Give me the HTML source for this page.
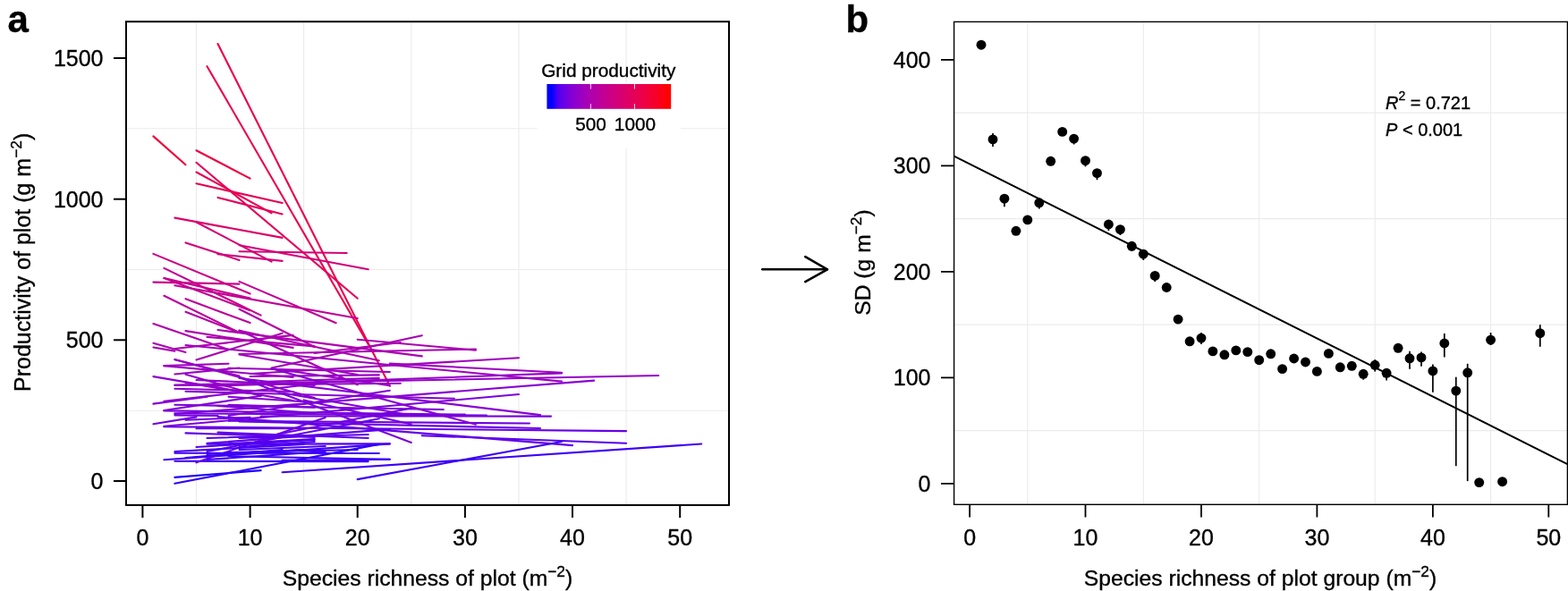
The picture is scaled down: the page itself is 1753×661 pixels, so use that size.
<!DOCTYPE html><html><head><meta charset="utf-8"><title>Figure</title><style>html,body{margin:0;padding:0;background:#fff;overflow:hidden}svg{display:block}text{font-family:'Liberation Sans', Arial, Helvetica, sans-serif;fill:#000;stroke:#000;stroke-width:0.35px}</style></head><body>
<svg width="1753" height="661" viewBox="0 0 1753 661">
<rect x="0" y="0" width="1753" height="661" fill="#fff"/>
<g stroke="#ebebeb" stroke-width="1.1" fill="none">
<line x1="219.5" y1="25" x2="219.5" y2="564"/>
<line x1="339.6" y1="25" x2="339.6" y2="564"/>
<line x1="459.8" y1="25" x2="459.8" y2="564"/>
<line x1="580.0" y1="25" x2="580.0" y2="564"/>
<line x1="700.1" y1="25" x2="700.1" y2="564"/>
<line x1="142" y1="459.2" x2="814" y2="459.2"/>
<line x1="142" y1="301.5" x2="814" y2="301.5"/>
<line x1="142" y1="143.8" x2="814" y2="143.8"/>
</g>
<g stroke-width="2.1" stroke-linecap="round" fill="none">
<line x1="243.5" y1="49.0" x2="435.8" y2="431.7" stroke="#ea004c"/>
<line x1="231.5" y1="74.2" x2="411.7" y2="385.0" stroke="#ea004c"/>
<line x1="171.4" y1="152.4" x2="207.5" y2="184.2" stroke="#f20037"/>
<line x1="219.5" y1="168.2" x2="279.6" y2="199.6" stroke="#ee0040"/>
<line x1="219.5" y1="181.8" x2="399.7" y2="333.7" stroke="#e50057"/>
<line x1="219.5" y1="192.5" x2="303.6" y2="238.3" stroke="#e70052"/>
<line x1="219.5" y1="205.3" x2="315.6" y2="227.1" stroke="#e60053"/>
<line x1="243.5" y1="220.9" x2="315.6" y2="239.4" stroke="#e3005b"/>
<line x1="195.4" y1="243.6" x2="315.6" y2="265.9" stroke="#dc0068"/>
<line x1="219.5" y1="248.5" x2="303.6" y2="292.6" stroke="#d70071"/>
<line x1="207.5" y1="271.4" x2="267.5" y2="290.9" stroke="#d40077"/>
<line x1="243.5" y1="284.1" x2="315.6" y2="291.9" stroke="#d2007b"/>
<line x1="267.5" y1="281.3" x2="387.7" y2="283.0" stroke="#d40077"/>
<line x1="267.5" y1="274.3" x2="411.7" y2="301.3" stroke="#d2007a"/>
<line x1="171.4" y1="283.9" x2="279.6" y2="328.5" stroke="#cc0085"/>
<line x1="183.4" y1="299.9" x2="291.6" y2="352.6" stroke="#c50090"/>
<line x1="171.4" y1="315.6" x2="267.5" y2="317.6" stroke="#c8008a"/>
<line x1="183.4" y1="311.1" x2="279.6" y2="333.6" stroke="#c6008d"/>
<line x1="183.4" y1="311.1" x2="279.6" y2="347.2" stroke="#c40091"/>
<line x1="195.4" y1="319.3" x2="399.7" y2="356.0" stroke="#c00096"/>
<line x1="183.4" y1="330.8" x2="267.5" y2="372.0" stroke="#bb009e"/>
<line x1="207.5" y1="334.2" x2="279.6" y2="361.1" stroke="#bc009c"/>
<line x1="207.5" y1="348.8" x2="267.5" y2="372.0" stroke="#b700a3"/>
<line x1="267.5" y1="314.9" x2="375.7" y2="361.2" stroke="#c00096"/>
<line x1="267.5" y1="345.8" x2="351.7" y2="388.0" stroke="#b400a6"/>
<line x1="171.4" y1="362.1" x2="255.5" y2="390.9" stroke="#b000ac"/>
<line x1="171.4" y1="383.8" x2="207.5" y2="394.0" stroke="#aa00b3"/>
<line x1="171.4" y1="388.5" x2="195.4" y2="392.6" stroke="#a900b4"/>
<line x1="207.5" y1="370.1" x2="327.6" y2="388.9" stroke="#ae00ad"/>
<line x1="231.5" y1="376.9" x2="351.7" y2="387.4" stroke="#ad00af"/>
<line x1="219.5" y1="402.4" x2="315.6" y2="372.7" stroke="#aa00b2"/>
<line x1="195.4" y1="390.0" x2="327.6" y2="374.9" stroke="#ad00af"/>
<line x1="267.5" y1="369.8" x2="423.8" y2="403.2" stroke="#ab00b1"/>
<line x1="267.5" y1="396.0" x2="531.9" y2="390.5" stroke="#a700b5"/>
<line x1="399.7" y1="379.7" x2="531.9" y2="391.7" stroke="#ab00b1"/>
<line x1="195.4" y1="402.2" x2="267.5" y2="420.4" stroke="#9d00c0"/>
<line x1="183.4" y1="409.1" x2="255.5" y2="406.7" stroke="#9f00be"/>
<line x1="303.6" y1="411.5" x2="471.8" y2="375.3" stroke="#a700b5"/>
<line x1="243.5" y1="369.0" x2="471.8" y2="398.4" stroke="#ac00b0"/>
<line x1="351.7" y1="395.0" x2="447.8" y2="383.0" stroke="#aa00b3"/>
<line x1="435.8" y1="406.6" x2="628.0" y2="416.8" stroke="#9d00c0"/>
<line x1="207.5" y1="386.0" x2="628.0" y2="426.6" stroke="#a000bd"/>
<line x1="195.4" y1="418.5" x2="267.5" y2="411.5" stroke="#9b00c2"/>
<line x1="255.5" y1="411.7" x2="435.8" y2="416.0" stroke="#9c00c1"/>
<line x1="279.6" y1="418.0" x2="580.0" y2="400.3" stroke="#9f00be"/>
<line x1="195.4" y1="431.0" x2="447.8" y2="428.7" stroke="#9200ca"/>
<line x1="195.4" y1="463.0" x2="664.1" y2="425.6" stroke="#8700d3"/>
<line x1="183.4" y1="476.8" x2="580.0" y2="441.0" stroke="#7c00db"/>
<line x1="231.5" y1="432.0" x2="628.0" y2="417.4" stroke="#9500c7"/>
<line x1="267.5" y1="369.5" x2="399.7" y2="430.3" stroke="#a400b9"/>
<line x1="267.5" y1="396.5" x2="399.7" y2="419.0" stroke="#a000be"/>
<line x1="279.6" y1="421.0" x2="423.8" y2="419.4" stroke="#9800c5"/>
<line x1="303.6" y1="412.0" x2="435.8" y2="431.3" stroke="#9700c5"/>
<line x1="291.6" y1="427.0" x2="423.8" y2="422.9" stroke="#9500c7"/>
<line x1="183.4" y1="409.2" x2="327.6" y2="422.0" stroke="#9b00c2"/>
<line x1="195.4" y1="402.0" x2="351.7" y2="445.0" stroke="#9600c7"/>
<line x1="207.5" y1="418.7" x2="291.6" y2="442.7" stroke="#9100cb"/>
<line x1="219.5" y1="425.0" x2="351.7" y2="431.0" stroke="#9300c9"/>
<line x1="171.4" y1="421.1" x2="327.6" y2="448.0" stroke="#8f00cd"/>
<line x1="195.4" y1="430.6" x2="736.2" y2="420.0" stroke="#9500c8"/>
<line x1="207.5" y1="437.8" x2="507.9" y2="445.7" stroke="#8900d1"/>
<line x1="171.4" y1="451.6" x2="231.5" y2="443.8" stroke="#8500d5"/>
<line x1="183.4" y1="448.7" x2="363.7" y2="428.0" stroke="#8c00cf"/>
<line x1="255.5" y1="443.8" x2="351.7" y2="450.0" stroke="#8500d4"/>
<line x1="195.4" y1="452.8" x2="495.8" y2="458.0" stroke="#7f00d9"/>
<line x1="183.4" y1="459.4" x2="519.9" y2="463.6" stroke="#7900dd"/>
<line x1="195.4" y1="462.4" x2="543.9" y2="464.6" stroke="#7700de"/>
<line x1="195.4" y1="464.5" x2="243.5" y2="465.0" stroke="#7600de"/>
<line x1="171.4" y1="474.2" x2="219.5" y2="466.4" stroke="#7100e2"/>
<line x1="207.5" y1="469.8" x2="279.6" y2="466.8" stroke="#7300e1"/>
<line x1="255.5" y1="465.0" x2="435.8" y2="436.8" stroke="#8200d6"/>
<line x1="255.5" y1="470.8" x2="592.0" y2="473.5" stroke="#6f00e3"/>
<line x1="243.5" y1="453.9" x2="351.7" y2="462.0" stroke="#7c00db"/>
<line x1="255.5" y1="452.8" x2="351.7" y2="455.6" stroke="#8000d8"/>
<line x1="291.6" y1="465.5" x2="616.0" y2="465.6" stroke="#7500df"/>
<line x1="183.4" y1="459.0" x2="291.6" y2="442.8" stroke="#8200d6"/>
<line x1="231.5" y1="505.0" x2="423.8" y2="468.3" stroke="#5e00eb"/>
<line x1="183.4" y1="477.2" x2="700.1" y2="482.1" stroke="#6700e7"/>
<line x1="219.5" y1="479.3" x2="339.6" y2="479.3" stroke="#6700e7"/>
<line x1="267.5" y1="471.5" x2="604.0" y2="479.0" stroke="#6c00e5"/>
<line x1="207.5" y1="484.4" x2="351.7" y2="489.0" stroke="#5e00eb"/>
<line x1="267.5" y1="422.0" x2="459.8" y2="494.9" stroke="#7c00db"/>
<line x1="243.5" y1="483.6" x2="411.7" y2="490.0" stroke="#5e00eb"/>
<line x1="471.8" y1="487.2" x2="700.1" y2="495.7" stroke="#5700ee"/>
<line x1="243.5" y1="466.0" x2="640.0" y2="498.1" stroke="#6400e9"/>
<line x1="231.5" y1="495.9" x2="435.8" y2="480.1" stroke="#5c00ec"/>
<line x1="303.6" y1="487.0" x2="459.8" y2="456.5" stroke="#6f00e3"/>
<line x1="195.4" y1="506.7" x2="423.8" y2="507.0" stroke="#3c00f7"/>
<line x1="195.4" y1="515.8" x2="411.7" y2="516.1" stroke="#3c00f7"/>
<line x1="183.4" y1="514.3" x2="435.8" y2="496.4" stroke="#3f00f6"/>
<line x1="219.5" y1="517.3" x2="363.7" y2="466.9" stroke="#6800e6"/>
<line x1="255.5" y1="510.3" x2="435.8" y2="513.8" stroke="#3c00f7"/>
<line x1="315.6" y1="514.9" x2="435.8" y2="513.7" stroke="#3c00f7"/>
<line x1="231.5" y1="496.6" x2="435.8" y2="496.4" stroke="#5000f1"/>
<line x1="267.5" y1="500.0" x2="351.7" y2="494.0" stroke="#4f00f1"/>
<line x1="231.5" y1="490.0" x2="327.6" y2="487.0" stroke="#5b00ec"/>
<line x1="267.5" y1="490.0" x2="411.7" y2="486.0" stroke="#5c00ec"/>
<line x1="219.5" y1="500.0" x2="351.7" y2="492.0" stroke="#5000f1"/>
<line x1="243.5" y1="509.0" x2="339.6" y2="503.0" stroke="#3d00f7"/>
<line x1="267.5" y1="423.0" x2="604.0" y2="464.1" stroke="#8800d2"/>
<line x1="303.6" y1="412.3" x2="531.9" y2="474.8" stroke="#8800d2"/>
<line x1="315.6" y1="439.5" x2="459.8" y2="464.5" stroke="#8100d7"/>
<line x1="339.6" y1="447.4" x2="459.8" y2="474.4" stroke="#7a00dc"/>
<line x1="195.4" y1="505.0" x2="339.6" y2="497.0" stroke="#4800f4"/>
<line x1="207.5" y1="512.0" x2="315.6" y2="503.0" stroke="#3c00f7"/>
<line x1="255.5" y1="506.0" x2="399.7" y2="503.0" stroke="#4100f6"/>
<line x1="231.5" y1="514.0" x2="363.7" y2="505.0" stroke="#3c00f7"/>
<line x1="195.4" y1="434.8" x2="327.6" y2="438.0" stroke="#8d00ce"/>
<line x1="207.5" y1="428.0" x2="279.6" y2="440.0" stroke="#8f00cd"/>
<line x1="243.5" y1="497.0" x2="351.7" y2="491.0" stroke="#5400f0"/>
<line x1="267.5" y1="503.0" x2="363.7" y2="499.0" stroke="#4800f4"/>
<line x1="231.5" y1="508.0" x2="339.6" y2="503.0" stroke="#3f00f7"/>
<line x1="195.4" y1="533.9" x2="291.6" y2="526.1" stroke="#1e00fd"/>
<line x1="195.4" y1="540.7" x2="423.8" y2="496.9" stroke="#3000fa"/>
<line x1="315.6" y1="528.3" x2="784.2" y2="496.5" stroke="#3c00f7"/>
<line x1="399.7" y1="536.1" x2="628.0" y2="494.0" stroke="#3c00f7"/>
</g>
<rect x="600.5" y="93" width="160.5" height="72.5" fill="#fff"/>
<defs><linearGradient id="cb" x1="0" y1="0" x2="1" y2="0"><stop offset="0" stop-color="#0000ff"/><stop offset="0.0400" stop-color="#0000ff"/><stop offset="0.0863" stop-color="#4b00f3"/><stop offset="0.1326" stop-color="#6800e7"/><stop offset="0.1789" stop-color="#7c00da"/><stop offset="0.2252" stop-color="#8d00ce"/><stop offset="0.2715" stop-color="#9a00c3"/><stop offset="0.3178" stop-color="#a600b7"/><stop offset="0.3641" stop-color="#b000ab"/><stop offset="0.4104" stop-color="#ba009f"/><stop offset="0.4567" stop-color="#c20094"/><stop offset="0.5030" stop-color="#ca0088"/><stop offset="0.5493" stop-color="#d1007d"/><stop offset="0.5956" stop-color="#d70072"/><stop offset="0.6419" stop-color="#dd0066"/><stop offset="0.6882" stop-color="#e3005b"/><stop offset="0.7345" stop-color="#e80050"/><stop offset="0.7808" stop-color="#ed0044"/><stop offset="0.8271" stop-color="#f20037"/><stop offset="0.8734" stop-color="#f6002a"/><stop offset="0.9197" stop-color="#fb001a"/><stop offset="0.9660" stop-color="#ff0000"/><stop offset="1" stop-color="#ff0000"/></linearGradient></defs>
<rect x="611.4" y="94" width="138.8" height="27.8" fill="url(#cb)"/>
<line x1="660.4" y1="94" x2="660.4" y2="99.6" stroke="#fff" stroke-width="1" opacity="0.8"/>
<line x1="660.4" y1="116.2" x2="660.4" y2="121.8" stroke="#fff" stroke-width="1" opacity="0.8"/>
<line x1="709.5" y1="94" x2="709.5" y2="99.6" stroke="#fff" stroke-width="1" opacity="0.8"/>
<line x1="709.5" y1="116.2" x2="709.5" y2="121.8" stroke="#fff" stroke-width="1" opacity="0.8"/>
<text x="680.3" y="86.2" font-size="20.8" text-anchor="middle">Grid productivity</text>
<text x="660.6" y="145.6" font-size="20.8" text-anchor="middle">500</text>
<text x="710" y="145.6" font-size="20.8" text-anchor="middle">1000</text>
<rect x="141" y="24.2" width="674" height="540.7" fill="none" stroke="#000" stroke-width="2"/>
<g stroke="#000" stroke-width="2">
<line x1="159.4" y1="565" x2="159.4" y2="579"/>
<line x1="279.6" y1="565" x2="279.6" y2="579"/>
<line x1="399.7" y1="565" x2="399.7" y2="579"/>
<line x1="519.9" y1="565" x2="519.9" y2="579"/>
<line x1="640.0" y1="565" x2="640.0" y2="579"/>
<line x1="760.2" y1="565" x2="760.2" y2="579"/>
<line x1="127" y1="538.0" x2="141" y2="538.0"/>
<line x1="127" y1="380.3" x2="141" y2="380.3"/>
<line x1="127" y1="222.7" x2="141" y2="222.7"/>
<line x1="127" y1="65.0" x2="141" y2="65.0"/>
</g>
<text x="159.4" y="609.7" font-size="25" text-anchor="middle">0</text>
<text x="279.6" y="609.7" font-size="25" text-anchor="middle">10</text>
<text x="399.7" y="609.7" font-size="25" text-anchor="middle">20</text>
<text x="519.9" y="609.7" font-size="25" text-anchor="middle">30</text>
<text x="640.0" y="609.7" font-size="25" text-anchor="middle">40</text>
<text x="760.2" y="609.7" font-size="25" text-anchor="middle">50</text>
<text x="115.5" y="546.9" font-size="25" text-anchor="end">0</text>
<text x="115.5" y="389.2" font-size="25" text-anchor="end">500</text>
<text x="115.5" y="231.6" font-size="25" text-anchor="end">1000</text>
<text x="115.5" y="73.9" font-size="25" text-anchor="end">1500</text>
<text x="478" y="654.9" font-size="24.7" text-anchor="middle">Species richness of plot (m<tspan dy="-10" font-size="17.3">−2</tspan><tspan dy="10">)</tspan></text>
<text transform="translate(34,293.4) rotate(-90)" x="0" y="0" font-size="25" text-anchor="middle">Productivity of plot (g m<tspan dy="-10" font-size="17.3">−2</tspan><tspan dy="10">)</tspan></text>
<text x="8.5" y="35.8" font-size="42" font-weight="bold">a</text>
<g stroke="#000" stroke-width="2.6" stroke-linecap="round" stroke-linejoin="round" fill="none"><line x1="852.3" y1="301.3" x2="924.5" y2="301.3"/><polyline points="900.3,287.2 925,301.3 900.3,315.1"/></g>
<g stroke="#ebebeb" stroke-width="1.1" fill="none">
<line x1="1148.8" y1="25" x2="1148.8" y2="564"/>
<line x1="1278.3" y1="25" x2="1278.3" y2="564"/>
<line x1="1407.7" y1="25" x2="1407.7" y2="564"/>
<line x1="1537.2" y1="25" x2="1537.2" y2="564"/>
<line x1="1666.6" y1="25" x2="1666.6" y2="564"/>
<line x1="1067" y1="481.6" x2="1752" y2="481.6"/>
<line x1="1067" y1="363.1" x2="1752" y2="363.1"/>
<line x1="1067" y1="244.6" x2="1752" y2="244.6"/>
<line x1="1067" y1="126.1" x2="1752" y2="126.1"/>
</g>
<line x1="1066.6" y1="174.6" x2="1752.4" y2="519.2" stroke="#000" stroke-width="2"/>
<g stroke="#000" stroke-width="1.7">
<line x1="1110.0" y1="148.9" x2="1110.0" y2="163.9"/>
<line x1="1122.9" y1="218.0" x2="1122.9" y2="231.2"/>
<line x1="1161.8" y1="222.0" x2="1161.8" y2="233.6"/>
<line x1="1200.6" y1="151.0" x2="1200.6" y2="161.5"/>
<line x1="1213.5" y1="176.0" x2="1213.5" y2="186.4"/>
<line x1="1226.5" y1="189.0" x2="1226.5" y2="201.2"/>
<line x1="1239.4" y1="247.0" x2="1239.4" y2="258.0"/>
<line x1="1252.4" y1="252.0" x2="1252.4" y2="263.0"/>
<line x1="1265.3" y1="272.0" x2="1265.3" y2="281.0"/>
<line x1="1278.3" y1="280.0" x2="1278.3" y2="291.0"/>
<line x1="1291.2" y1="305.0" x2="1291.2" y2="315.0"/>
<line x1="1343.0" y1="372.0" x2="1343.0" y2="385.0"/>
<line x1="1524.2" y1="414.0" x2="1524.2" y2="424.7"/>
<line x1="1537.2" y1="402.2" x2="1537.2" y2="415.6"/>
<line x1="1550.1" y1="412.0" x2="1550.1" y2="425.6"/>
<line x1="1576.0" y1="392.7" x2="1576.0" y2="412.8"/>
<line x1="1589.0" y1="393.4" x2="1589.0" y2="409.8"/>
<line x1="1601.9" y1="407.4" x2="1601.9" y2="438.7"/>
<line x1="1614.8" y1="373.0" x2="1614.8" y2="399.5"/>
<line x1="1627.8" y1="421.7" x2="1627.8" y2="521.2"/>
<line x1="1640.7" y1="406.8" x2="1640.7" y2="538.1"/>
<line x1="1666.6" y1="372.1" x2="1666.6" y2="386.0"/>
<line x1="1721.8" y1="363.2" x2="1721.8" y2="387.8"/>
</g><g fill="#000">
<circle cx="1097.0" cy="50.2" r="5.45"/>
<circle cx="1110.0" cy="155.9" r="5.45"/>
<circle cx="1122.9" cy="222.2" r="5.45"/>
<circle cx="1135.9" cy="258.3" r="5.45"/>
<circle cx="1148.8" cy="245.9" r="5.45"/>
<circle cx="1161.8" cy="226.8" r="5.45"/>
<circle cx="1174.7" cy="180.3" r="5.45"/>
<circle cx="1187.7" cy="147.4" r="5.45"/>
<circle cx="1200.6" cy="155.1" r="5.45"/>
<circle cx="1213.5" cy="179.7" r="5.45"/>
<circle cx="1226.5" cy="193.6" r="5.45"/>
<circle cx="1239.4" cy="251.0" r="5.45"/>
<circle cx="1252.4" cy="256.6" r="5.45"/>
<circle cx="1265.3" cy="275.3" r="5.45"/>
<circle cx="1278.3" cy="284.2" r="5.45"/>
<circle cx="1291.2" cy="308.4" r="5.45"/>
<circle cx="1304.2" cy="321.5" r="5.45"/>
<circle cx="1317.1" cy="357.1" r="5.45"/>
<circle cx="1330.1" cy="381.8" r="5.45"/>
<circle cx="1343.0" cy="378.1" r="5.45"/>
<circle cx="1355.9" cy="392.9" r="5.45"/>
<circle cx="1368.9" cy="396.8" r="5.45"/>
<circle cx="1381.8" cy="391.9" r="5.45"/>
<circle cx="1394.8" cy="393.6" r="5.45"/>
<circle cx="1407.7" cy="402.7" r="5.45"/>
<circle cx="1420.7" cy="395.8" r="5.45"/>
<circle cx="1433.6" cy="412.6" r="5.45"/>
<circle cx="1446.6" cy="401.0" r="5.45"/>
<circle cx="1459.5" cy="405.0" r="5.45"/>
<circle cx="1472.4" cy="415.4" r="5.45"/>
<circle cx="1485.4" cy="395.4" r="5.45"/>
<circle cx="1498.3" cy="410.8" r="5.45"/>
<circle cx="1511.3" cy="409.3" r="5.45"/>
<circle cx="1524.2" cy="418.3" r="5.45"/>
<circle cx="1537.2" cy="408.3" r="5.45"/>
<circle cx="1550.1" cy="417.3" r="5.45"/>
<circle cx="1563.1" cy="389.3" r="5.45"/>
<circle cx="1576.0" cy="400.8" r="5.45"/>
<circle cx="1589.0" cy="399.9" r="5.45"/>
<circle cx="1601.9" cy="414.9" r="5.45"/>
<circle cx="1614.8" cy="384.0" r="5.45"/>
<circle cx="1627.8" cy="437.1" r="5.45"/>
<circle cx="1640.7" cy="416.8" r="5.45"/>
<circle cx="1653.7" cy="539.6" r="5.45"/>
<circle cx="1666.6" cy="380.2" r="5.45"/>
<circle cx="1679.6" cy="538.7" r="5.45"/>
<circle cx="1721.8" cy="372.7" r="5.45"/>
</g>
<rect x="1066.6" y="24.4" width="685.8" height="539.9" fill="none" stroke="#000" stroke-width="1.4"/>
<g stroke="#000" stroke-width="1.8">
<line x1="1084.1" y1="564.3" x2="1084.1" y2="578.5"/>
<line x1="1213.5" y1="564.3" x2="1213.5" y2="578.5"/>
<line x1="1343.0" y1="564.3" x2="1343.0" y2="578.5"/>
<line x1="1472.4" y1="564.3" x2="1472.4" y2="578.5"/>
<line x1="1601.9" y1="564.3" x2="1601.9" y2="578.5"/>
<line x1="1731.3" y1="564.3" x2="1731.3" y2="578.5"/>
<line x1="1052" y1="540.9" x2="1066.6" y2="540.9"/>
<line x1="1052" y1="422.4" x2="1066.6" y2="422.4"/>
<line x1="1052" y1="303.9" x2="1066.6" y2="303.9"/>
<line x1="1052" y1="185.4" x2="1066.6" y2="185.4"/>
<line x1="1052" y1="66.9" x2="1066.6" y2="66.9"/>
</g>
<text x="1084.1" y="609.7" font-size="25" text-anchor="middle">0</text>
<text x="1213.5" y="609.7" font-size="25" text-anchor="middle">10</text>
<text x="1343.0" y="609.7" font-size="25" text-anchor="middle">20</text>
<text x="1472.4" y="609.7" font-size="25" text-anchor="middle">30</text>
<text x="1601.9" y="609.7" font-size="25" text-anchor="middle">40</text>
<text x="1731.3" y="609.7" font-size="25" text-anchor="middle">50</text>
<text x="1040.5" y="549.8" font-size="25" text-anchor="end">0</text>
<text x="1040.5" y="431.3" font-size="25" text-anchor="end">100</text>
<text x="1040.5" y="312.8" font-size="25" text-anchor="end">200</text>
<text x="1040.5" y="194.3" font-size="25" text-anchor="end">300</text>
<text x="1040.5" y="75.8" font-size="25" text-anchor="end">400</text>
<text x="1409" y="654.9" font-size="24.7" text-anchor="middle">Species richness of plot group (m<tspan dy="-10" font-size="17.3">−2</tspan><tspan dy="10">)</tspan></text>
<text transform="translate(973.4,293.6) rotate(-90)" x="0" y="0" font-size="24.7" text-anchor="middle">SD (g m<tspan dy="-10" font-size="17.3">−2</tspan><tspan dy="10">)</tspan></text>
<text x="1549" y="121.7" font-size="20"><tspan font-style="italic">R</tspan><tspan dy="-10" font-size="14">2</tspan><tspan dy="10"> = 0.721</tspan></text>
<text x="1549" y="152" font-size="20"><tspan font-style="italic">P</tspan> &lt; 0.001</text>
<text x="945.5" y="35.8" font-size="42" font-weight="bold">b</text>
</svg></body></html>
